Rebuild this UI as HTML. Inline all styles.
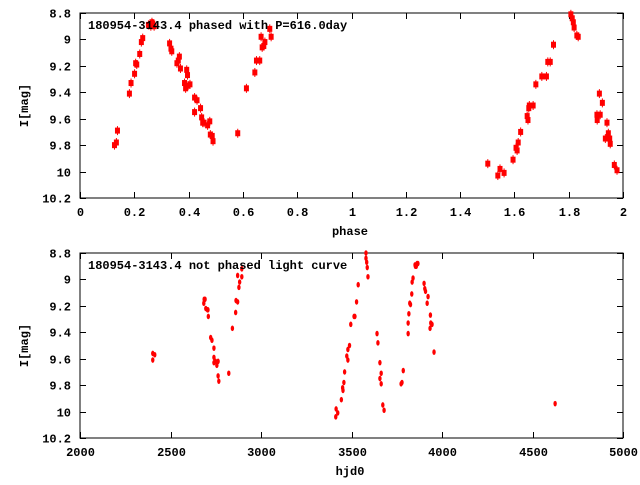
<!DOCTYPE html>
<html><head><meta charset="utf-8"><style>
body{margin:0;background:#fff}
svg text{font-family:"Liberation Mono",monospace;font-weight:bold;font-size:12px;fill:#000}
</style></head><body>
<svg id="chart" width="640" height="480" xmlns="http://www.w3.org/2000/svg"></svg>
<script>
const phaseX=[0.127,0.134,0.138,0.182,0.188,0.201,0.205,0.209,0.220,0.226,0.231,0.252,0.261,0.268,0.273,0.265,0.330,0.335,0.338,0.357,0.362,0.366,0.370,0.385,0.389,0.393,0.396,0.398,0.405,0.422,0.422,0.431,0.444,0.448,0.452,0.457,0.470,0.478,0.480,0.487,0.490,0.581,0.613,0.644,0.650,0.662,0.667,0.671,0.677,0.681,0.699,0.704,
1.502,1.539,1.547,1.562,1.595,1.606,1.610,1.614,1.623,1.647,1.650,1.653,1.655,1.669,1.679,1.701,1.718,1.723,1.732,1.744,1.808,1.813,1.817,1.820,1.830,1.835,1.913,1.924,1.904,1.916,1.905,1.941,1.946,1.951,1.935,1.953,1.968,1.978];
const phaseMag=[9.80,9.78,9.69,9.41,9.33,9.26,9.18,9.19,9.11,9.02,8.99,8.89,8.90,8.88,8.90,8.87,9.03,9.07,9.09,9.18,9.16,9.13,9.22,9.33,9.37,9.23,9.27,9.35,9.34,9.44,9.55,9.46,9.52,9.59,9.63,9.63,9.65,9.62,9.72,9.73,9.77,9.71,9.37,9.25,9.16,9.16,8.98,9.06,9.05,9.02,8.92,8.98,
9.94,10.03,9.98,10.01,9.91,9.82,9.84,9.78,9.70,9.58,9.61,9.52,9.50,9.50,9.34,9.28,9.28,9.17,9.17,9.04,8.81,8.84,8.87,8.91,8.97,8.98,9.41,9.48,9.57,9.57,9.61,9.63,9.71,9.75,9.75,9.79,9.95,9.99];
const hjd=[2402,2402,2413,2684,2686,2691,2695,2704,2709,2707,2722,2729,2740,2740,2740,2749,2756,2763,2763,2767,2822,2842,2860,2862,2871,2871,2878,2882,2894,2894,
3413,3415,3424,3444,3451,3453,3458,3462,3474,3480,3480,3489,3496,3514,3519,3528,3537,3580,3580,3584,3587,3591,3641,3646,3657,3657,3664,3664,3673,3680,
3774,3779,3786,3813,3813,3817,3822,3826,3833,3835,3840,3851,3858,3862,3867,3853,3901,3905,3909,3918,3923,3936,3934,3938,3945,3956,4625];
const hjdMag=[9.61,9.56,9.57,9.18,9.15,9.15,9.22,9.23,9.28,9.23,9.44,9.46,9.52,9.59,9.63,9.62,9.65,9.62,9.73,9.77,9.71,9.37,9.25,9.16,9.17,8.97,9.06,9.02,8.98,8.92,
10.04,9.98,10.01,9.91,9.82,9.84,9.78,9.70,9.58,9.61,9.53,9.50,9.34,9.28,9.28,9.17,9.04,8.80,8.84,8.87,8.91,8.98,9.41,9.48,9.63,9.75,9.71,9.79,9.95,9.99,
9.79,9.78,9.69,9.41,9.33,9.26,9.18,9.19,9.11,9.02,8.99,8.89,8.90,8.88,8.88,8.90,9.03,9.07,9.09,9.18,9.13,9.27,9.37,9.33,9.34,9.55,9.94];
const yTicks=[8.8,9,9.2,9.4,9.6,9.8,10,10.2];
const phaseTicks=[0,0.2,0.4,0.6,0.8,1,1.2,1.4,1.6,1.8,2];
const hjdTicks=[2000,2500,3000,3500,4000,4500,5000];

const svg=document.getElementById('chart');
const NS='http://www.w3.org/2000/svg';
function mk(tag,attrs,parent){const e=document.createElementNS(NS,tag);for(const k in attrs)e.setAttribute(k,attrs[k]);(parent||svg).appendChild(e);return e;}

function plot(cfg){
  const g=mk('g',{});
  
  
  const L=80,R=623,T=cfg.top,B=cfg.top+185;
  const xs=v=>L+(v-cfg.xmin)/(cfg.xmax-cfg.xmin)*(R-L);
  const ys=v=>T+(v-8.8)/1.4*(B-T);
  const frame=mk('rect',{x:L,y:T,width:R-L,height:B-T,fill:'none',stroke:'#000','stroke-width':1},g);
  
  
  yTicks.forEach(v=>{
    const y=Math.round(ys(v))+0.5;
    mk('line',{x1:L,x2:L+6,y1:y,y2:y,stroke:'#000'},g);
    mk('line',{x1:R-6,x2:R,y1:y,y2:y,stroke:'#000'},g);
    const t=mk('text',{x:71,y:y+4,'text-anchor':'end'},g);
    t.textContent=String(v);
    
    
  });
  cfg.ticks.forEach(v=>{
    const x=Math.round(xs(v))+0.5;
    mk('line',{x1:x,x2:x,y1:B,y2:B-6,stroke:'#000'},g);
    mk('line',{x1:x,x2:x,y1:T,y2:T+6,stroke:'#000'},g);
    const t=mk('text',{x:x,y:B+18,'text-anchor':'middle'},g);
    t.textContent=String(v);
    
    
  });
  const yl=mk('text',{x:0,y:0,'text-anchor':'middle',transform:`translate(28,${(T+B)/2}) rotate(-90)`},g);
  yl.textContent='I[mag]';
  
  
  const xl=mk('text',{x:cfg.xlabelX,y:B+37,'text-anchor':'middle'},g);
  xl.textContent=cfg.xlabel;
  
  
  cfg.xs.forEach((v,i)=>{
    const cx=xs(v),cy=ys(cfg.ys[i]);
    let m;
    if(cfg.square){
      m=mk('rect',{x:cx-2.5,y:cy-3,width:5,height:6,fill:'#f00'},g);
      mk('line',{x1:cx,x2:cx,y1:cy-4.5,y2:cy+4.5,stroke:'#f00'},g);
    } else {
      m=mk('ellipse',{cx:cx,cy:cy,rx:1.7,ry:2.8,fill:'#f00'},g);
    }
    
    
  });
  const tt=mk('text',{x:88,y:T+16},g);
  tt.textContent=cfg.title;
  
  
}
plot({name:'phased-plot',top:13,xmin:0,xmax:2,ticks:phaseTicks,xs:phaseX,ys:phaseMag,square:true,xlabel:'phase',xlabelX:350,title:'180954-3143.4 phased with P=616.0day'});
plot({name:'unphased-plot',top:253,xmin:2000,xmax:5000,ticks:hjdTicks,xs:hjd,ys:hjdMag,square:false,xlabel:'hjd0',xlabelX:350,title:'180954-3143.4 not phased light curve'});
</script>
</body></html>
